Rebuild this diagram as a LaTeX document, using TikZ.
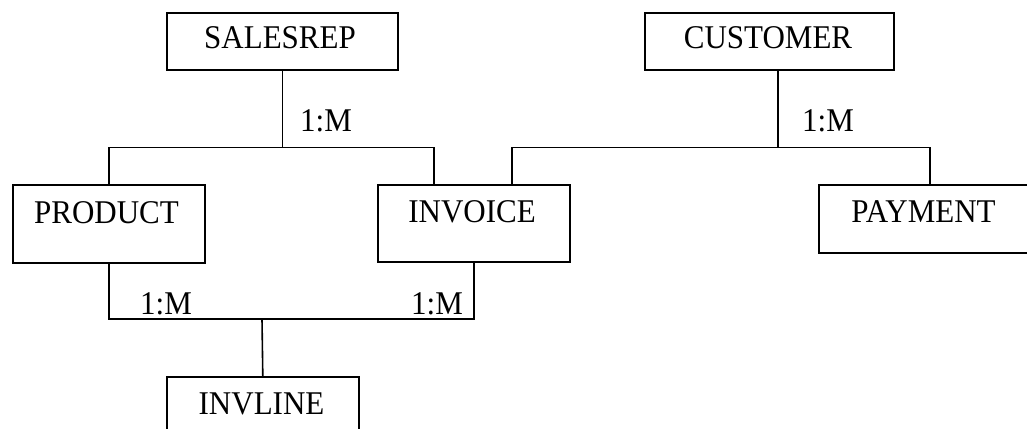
\documentclass[tikz,border=0pt]{standalone}
\usepackage{fontspec}
\setmainfont{Liberation Serif}
% slightly taller lettering
\newcommand\tallword[1]{\scalebox{1}[1.07]{#1}}
\begin{document}
\begin{tikzpicture}[x=1pt,y=-1pt,
  entity/.style={draw,line width=1.6pt,inner sep=0pt,anchor=north west},
  entname/.style={inner sep=0pt,font=\fontsize{31}{37}\selectfont},
  card/.style={inner sep=0pt,anchor=base west,font=\fontsize{31}{37}\selectfont},
  link/.style={line width=1.6pt}]
\useasboundingbox (0,0) rectangle (1027,428);
\clip (0,0) rectangle (1027,428);
\fill[white] (0,0) rectangle (1027,428);

% entity boxes
\node[entity,minimum width=231pt,minimum height=57pt] (salesrep) at (166,12) {};
\node[entity,minimum width=249pt,minimum height=57pt] (customer) at (644,12) {};
\node[entity,minimum width=192pt,minimum height=78pt] (product) at (12,184) {};
\node[entity,minimum width=192pt,minimum height=77pt] (invoice) at (377,184) {};
\node[entity,minimum width=211pt,minimum height=68pt] (payment) at (818,184) {};
\node[entity,minimum width=192pt,minimum height=78pt] (invline) at (166,376) {};

% entity names
\node[entname] (t-salesrep) at (280,38) {\tallword{SALESREP}};
\node[entname] (t-customer) at (768,38) {\tallword{CUSTOMER}};
\node[entname] (t-product) at (106.5,213) {\tallword{PRODUCT}};
\node[entname] (t-invoice) at (472,212) {\tallword{INVOICE}};
\node[entname] (t-payment) at (923.5,212) {\tallword{PAYMENT}};
\node[entname] (t-invline) at (261.5,404) {\tallword{INVLINE}};

% attachment points off the box centres
\path (invoice.north west) ++(57,0) coordinate (inv-s);
\path (invoice.north west) ++(135,0) coordinate (inv-c);
\path (customer.south west) ++(134,0) coordinate (cust-d);
\path (payment.north west) ++(112,0) coordinate (pay-c);

% SALESREP 1:M PRODUCT / INVOICE
\draw[link] (salesrep.south) -- ++(0,77) coordinate (sj);
\draw[link] (product.north) |- (sj) -| (inv-s);
% CUSTOMER 1:M INVOICE / PAYMENT
\draw[link] (cust-d) -- ++(0,77) coordinate (cj);
\draw[link] (inv-c) |- (cj) -| (pay-c);
% PRODUCT, INVOICE 1:M INVLINE
\coordinate (lj) at (262,319);
\draw[link] (product.south) |- (lj) -| (invoice.south);
\draw[link] (lj) -- (invline.north);

% cardinalities
\node[card] (c1) at (300,131) {\tallword{1:M}};
\node[card] (c2) at (802,131) {\tallword{1:M}};
\node[card] (c3) at (140,314) {\tallword{1:M}};
\node[card] (c4) at (411,314) {\tallword{1:M}};
\end{tikzpicture}
\end{document}
